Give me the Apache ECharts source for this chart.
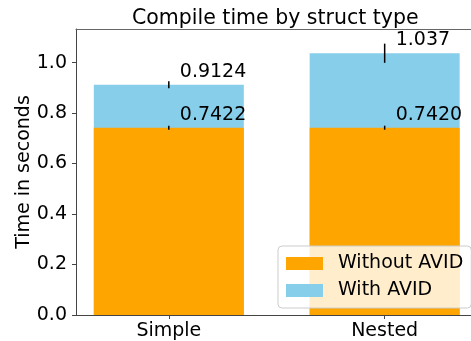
<!DOCTYPE html>
<html><head><meta charset="utf-8">
<script src="https://cdn.jsdelivr.net/npm/echarts@6/dist/echarts.min.js"></script>
<style>html,body{margin:0;padding:0;background:#fff}#c{width:471px;height:341px}</style>
</head><body><div id="c"></div>
<script>
const categories = ['Simple', 'Nested'];
const withoutAvid = [0.7422, 0.7420];
const withAvid = [0.9124, 1.037];
const withoutAvidErr = [0.008, 0.008];
const withAvidErr = [0.014, 0.038];
const withoutAvidLabels = ['0.7422', '0.7420'];
const withAvidLabels = ['0.9124', '1.037'];
const yTicks = [0, 0.2, 0.4, 0.6, 0.8, 1.0];

const FONT = 'DejaVu Sans';
const chart = echarts.init(document.getElementById('c'), null, {renderer: 'canvas'});

const errData = [];
categories.forEach((c, i) => {
  errData.push([i, withoutAvid[i] - withoutAvidErr[i], withoutAvid[i] + withoutAvidErr[i], withoutAvid[i], withoutAvidLabels[i]]);
  errData.push([i, withAvid[i] - withAvidErr[i], withAvid[i] + withAvidErr[i], withAvid[i], withAvidLabels[i]]);
});

const X_MIN = -0.43, X_MAX = 1.40;

chart.setOption({
  animation: false,
  title: {
    text: 'Compile time by struct type',
    left: 127, top: 3,
    textStyle: {fontFamily: FONT, fontSize: 20.5, fontWeight: 'normal', color: '#000'}
  },
  grid: {left: 76, right: 0, top: 29, bottom: 26},
  legend: {
    orient: 'vertical', left: 278, top: 246,
    data: ['Without AVID', 'With AVID'],
    icon: 'rect', itemWidth: 37, itemHeight: 13, itemGap: 8,
    padding: [8, 8, 8, 8],
    backgroundColor: 'rgba(255,255,255,0.8)', borderColor: '#ccc', borderWidth: 1, borderRadius: 4,
    textStyle: {fontFamily: FONT, fontSize: 19, color: '#000', padding: [0, 0, 0, 10]}
  },
  xAxis: [{
    type: 'value', min: X_MIN, max: X_MAX,
    splitLine: {show: false},
    axisLine: {show: true, onZero: false, lineStyle: {color: '#444', width: 1}},
    axisTick: {show: true, customValues: [0, 1], length: 4, lineStyle: {color: '#444'}},
    axisLabel: {customValues: [0, 1], margin: 7, formatter: v => categories[Math.round(v)] || '',
      fontFamily: FONT, fontSize: 19, color: '#000'}
  }, {
    type: 'value', min: X_MIN, max: X_MAX, position: 'top',
    splitLine: {show: false},
    axisLine: {show: true, onZero: false, lineStyle: {color: '#666', width: 1}},
    axisTick: {show: false}, axisLabel: {show: false}
  }],
  yAxis: {
    type: 'value', min: 0, max: 1.133, interval: 0.2,
    name: 'Time in seconds', nameLocation: 'middle', nameGap: 42, nameMoveOverlap: false,
    nameTextStyle: {fontFamily: FONT, fontSize: 19, color: '#000'},
    splitLine: {show: false},
    axisLine: {show: true, onZero: false, lineStyle: {color: '#444', width: 1}},
    axisTick: {show: true, customValues: yTicks, length: 4, lineStyle: {color: '#444'}},
    axisLabel: {customValues: yTicks, margin: 9, formatter: v => v.toFixed(1),
      fontFamily: FONT, fontSize: 19, color: '#000'}
  },
  series: [
    {
      name: 'With AVID', type: 'bar', barWidth: 150, barGap: '-100%',
      itemStyle: {color: '#87CEEB'}, z: 1,
      data: withAvid.map((v, i) => [i, v])
    },
    {
      name: 'Without AVID', type: 'bar', barWidth: 150, barGap: '-100%',
      itemStyle: {color: '#FFA500'}, z: 2,
      data: withoutAvid.map((v, i) => [i, v])
    },
    {
      type: 'custom', z: 5, silent: true,
      data: errData,
      encode: {x: 0, y: [1, 2]},
      renderItem: (params, api) => {
        const x = api.value(0);
        const lo = api.coord([x, api.value(1)]);
        const hi = api.coord([x, api.value(2)]);
        const mid = api.coord([x, api.value(3)]);
        const label = errData[params.dataIndex][4];
        return {
          type: 'group',
          children: [
            {type: 'line', shape: {x1: lo[0], y1: lo[1], x2: hi[0], y2: hi[1]}, style: {stroke: '#000', lineWidth: 1.5}},
            {type: 'text', x: mid[0] + 11, y: mid[1] - 13,
              style: {text: label, fontFamily: FONT, fontSize: 19, fill: '#000', textAlign: 'left', textVerticalAlign: 'middle'}}
          ]
        };
      }
    }
  ]
});
</script>
</body></html>
